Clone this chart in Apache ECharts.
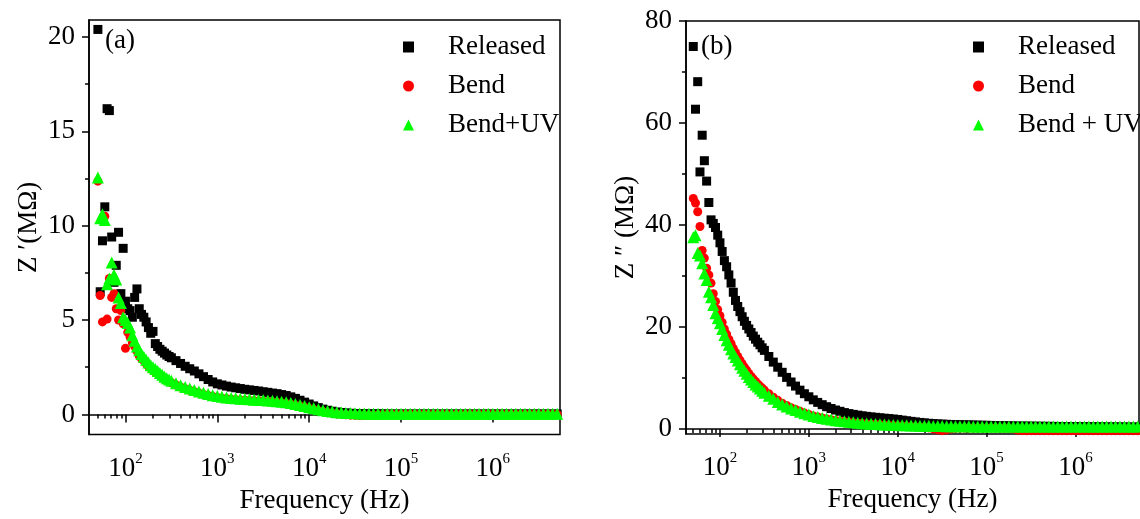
<!DOCTYPE html>
<html>
<head>
<meta charset="utf-8">
<script src="https://cdn.jsdelivr.net/npm/echarts@6/dist/echarts.min.js"></script>
<style>
  html, body { margin: 0; padding: 0; background: #fff; }
  #chart { width: 1140px; height: 519px; }
</style>
</head>
<body>
<div id="chart"></div>
<script>
// frequency sweep (Hz)
const freq = [
  50.1, 53.1, 56.2, 59.6, 63.1, 66.8, 70.8, 75.0, 79.4, 84.1, 89.1, 94.4,
  100, 105.9, 112.2, 118.9, 125.9, 133.4, 141.3, 149.6, 158.5, 167.9, 177.8, 188.4,
  199.5, 211.3, 223.9, 237.1, 251.2, 266.1, 281.8, 298.5,
  316.2, 354.8, 398.1, 446.7, 501.2, 562.3, 631.0, 707.9, 794.3, 891.3,
  1000, 1122, 1259, 1413, 1585, 1778, 1995, 2239, 2512, 2818,
  3162, 3548, 3981, 4467, 5012, 5623, 6310, 7079, 7943, 8913,
  10000, 11220, 12589, 14125, 15849, 17783, 19953, 22387, 25119, 28184,
  31623, 35481, 39811, 44668, 50119, 56234, 63096, 70795, 79433, 89125,
  100000, 112202, 125893, 141254, 158489, 177828, 199526, 223872, 251189, 281838,
  316228, 354813, 398107, 446684, 501187, 562341, 630957, 707946, 794328, 891251,
  1000000, 1122018, 1258925, 1412538, 1584893, 1778279, 1995262, 2238721, 2511886, 2818383,
  3162278, 3548134, 3981072, 4466836, 5011872
];

// (a) Z' in MOhm
const releasedA = [
  20.4, 6.5, 9.2, 11.0, 16.2, 16.1, 9.4, 7.0, 7.9, 9.65, 6.4, 8.8,
  6.0, 5.6, 5.5, 5.15, 6.2, 6.65, 5.6, 5.3, 5.15, 4.9, 4.6, 4.3,
  4.4, 3.75, 3.6, 3.45, 3.35, 3.25, 3.15, 3.07,
  3.0, 2.85, 2.7, 2.55, 2.42, 2.3, 2.15, 2.0, 1.85, 1.72,
  1.62, 1.56, 1.5, 1.45, 1.41, 1.37, 1.33, 1.3, 1.27, 1.24,
  1.2, 1.17, 1.13, 1.1, 1.05, 1.0, 0.93, 0.85, 0.75, 0.65,
  0.55, 0.45, 0.36, 0.28, 0.22, 0.17, 0.13, 0.1, 0.08, 0.06,
  0.05, 0.04, 0.03, 0.03, 0.03, 0.03, 0.03, 0.02, 0.02, 0.02,
  0.02, 0.02, 0.02, 0.02, 0.02, 0.02, 0.02, 0.02, 0.02, 0.02,
  0.02, 0.02, 0.02, 0.02, 0.02, 0.02, 0.02, 0.02, 0.02, 0.02,
  0.02, 0.02, 0.02, 0.02, 0.02, 0.02, 0.02, 0.02, 0.02, 0.02,
  0.02, 0.02, 0.02, 0.02, 0.02
];
const bendA = [
  12.36, 6.3, 4.9, 10.5, 5.05, 7.2, 6.2, 6.4, 5.6, 5.0, 5.5, 4.8,
  3.5, 4.35, 4.1, 3.8, 3.6, 3.35, 3.1, 2.95, 2.85, 2.7, 2.55, 2.45,
  2.35, 2.25, 2.15, 2.05, 1.97, 1.9, 1.82, 1.75,
  1.68, 1.56, 1.45, 1.36, 1.28, 1.2, 1.13, 1.06, 1.0, 0.95,
  0.9, 0.86, 0.83, 0.8, 0.78, 0.76, 0.75, 0.74, 0.72, 0.71,
  0.7, 0.68, 0.66, 0.64, 0.61, 0.58, 0.54, 0.49, 0.44, 0.38,
  0.32, 0.26, 0.2, 0.15, 0.1, 0.06, 0.03, 0.0, -0.02, -0.04,
  -0.05, -0.06, -0.06, -0.05, -0.04, -0.03, -0.02, -0.01, 0, 0,
  0, 0, 0, 0, 0, 0, 0, 0, 0, 0,
  0, 0, 0, 0, 0, 0, 0, 0, 0, 0,
  0, 0, 0, 0, 0, 0, 0, 0, 0, 0,
  0, 0, 0, 0, 0
];
const uvA = [
  12.55, 10.4, 10.6, 10.3, 6.9, 7.2, 8.05, 7.4, 7.15, 6.2, 5.9, 5.15,
  5.0, 4.85, 4.6, 4.2, 3.9, 3.6, 3.4, 3.2, 3.05, 2.9, 2.75, 2.6,
  2.5, 2.4, 2.3, 2.2, 2.1, 2.0, 1.92, 1.85,
  1.78, 1.65, 1.55, 1.45, 1.37, 1.3, 1.22, 1.15, 1.08, 1.02,
  0.97, 0.93, 0.9, 0.87, 0.85, 0.83, 0.81, 0.8, 0.78, 0.77,
  0.76, 0.74, 0.72, 0.7, 0.67, 0.64, 0.6, 0.55, 0.5, 0.44,
  0.38, 0.32, 0.27, 0.22, 0.18, 0.15, 0.12, 0.1, 0.08, 0.07,
  0.06, 0.05, 0.05, 0.04, 0.04, 0.04, 0.04, 0.04, 0.04, 0.04,
  0.04, 0.04, 0.04, 0.04, 0.04, 0.04, 0.04, 0.04, 0.04, 0.04,
  0.03, 0.03, 0.03, 0.03, 0.03, 0.03, 0.03, 0.03, 0.03, 0.03,
  0.03, 0.03, 0.03, 0.03, 0.03, 0.03, 0.03, 0.03, 0.03, 0.03,
  0.03, 0.03, 0.03, 0.03, 0.03
];

// (b) Z'' in MOhm
const releasedB = [
  75.0, 62.7, 68.1, 50.4, 57.6, 52.6, 48.6, 44.4, 41.0, 40.3, 39.5, 38.0,
  36.5, 34.8, 33.0, 31.8, 30.2, 28.6, 26.8, 25.2, 24.0, 23.0, 22.0, 21.1,
  20.3, 19.6, 18.9, 18.2, 17.6, 17.0, 16.5, 15.9,
  15.4, 14.2, 13.1, 12.1, 11.1, 10.1, 9.2, 8.4, 7.6, 6.9,
  6.3, 5.7, 5.2, 4.75, 4.35, 4.0, 3.7, 3.45, 3.2, 3.0,
  2.85, 2.7, 2.57, 2.46, 2.36, 2.27, 2.18, 2.1, 2.02, 1.94,
  1.85, 1.72, 1.6, 1.48, 1.37, 1.27, 1.18, 1.1, 1.04, 0.98,
  0.94, 0.9, 0.87, 0.84, 0.82, 0.8, 0.78, 0.76, 0.74, 0.72,
  0.7, 0.68, 0.66, 0.64, 0.62, 0.6, 0.58, 0.57, 0.56, 0.55,
  0.54, 0.53, 0.52, 0.51, 0.5, 0.49, 0.48, 0.47, 0.46, 0.45,
  0.44, 0.43, 0.42, 0.42, 0.41, 0.41, 0.4, 0.4, 0.39, 0.39,
  0.38, 0.38, 0.37, 0.37, 0.36
];
const bendB = [
  45.2, 44.3, 42.6, 39.7, 35.0, 33.5, 31.5, 30.2, 28.6, 26.5, 25.0, 23.4,
  22.2, 20.9, 19.6, 18.6, 17.6, 16.7, 15.8, 15.0, 14.2, 13.5, 12.8, 12.1,
  11.5, 10.9, 10.3, 9.8, 9.3, 8.8, 8.4, 8.0,
  7.6, 6.9, 6.2, 5.6, 5.05, 4.6, 4.15, 3.8, 3.45, 3.1,
  2.8, 2.55, 2.35, 2.15, 1.95, 1.8, 1.65, 1.53, 1.42, 1.32,
  1.22, 1.13, 1.05, 0.98, 0.91, 0.85, 0.79, 0.73, 0.68, 0.63,
  0.58, 0.53, 0.48, 0.43, 0.38, 0.33, 0.28, 0.2, 0.0, -0.2,
  -0.35, -0.2, 0.0, 0.1, 0.15, 0.15, 0.15, 0.15, 0.15, 0.15,
  0.15, 0.15, 0.15, 0.1, 0.1, 0.1, 0.0, -0.25, -0.35, -0.35,
  -0.35, -0.35, -0.35, -0.35, -0.35, -0.35, -0.35, -0.35, -0.35, -0.35,
  -0.35, -0.35, -0.35, -0.35, -0.35, -0.35, -0.35, -0.35, -0.35, -0.35,
  -0.35, -0.35, -0.35, -0.35, -0.35
];
const uvB = [
  37.6, 38.0, 34.5, 34.0, 32.5, 30.5, 29.2, 26.9, 25.8, 24.3, 22.7, 21.7,
  20.7, 19.6, 18.4, 17.4, 16.5, 15.6, 14.8, 14.1, 13.4, 12.7, 12.0, 11.4,
  10.8, 10.2, 9.7, 9.2, 8.7, 8.3, 7.9, 7.5,
  7.1, 6.5, 5.9, 5.3, 4.8, 4.4, 4.0, 3.7, 3.35, 3.05,
  2.8, 2.55, 2.35, 2.15, 2.0, 1.85, 1.7, 1.6, 1.5, 1.4,
  1.3, 1.2, 1.12, 1.05, 1.0, 0.95, 0.9, 0.86, 0.82, 0.78,
  0.75, 0.72, 0.7, 0.68, 0.66, 0.64, 0.62, 0.6, 0.58, 0.56,
  0.55, 0.54, 0.53, 0.52, 0.51, 0.5, 0.5, 0.49, 0.49, 0.48,
  0.48, 0.48, 0.47, 0.47, 0.47, 0.46, 0.46, 0.46, 0.46, 0.45,
  0.45, 0.45, 0.45, 0.45, 0.45, 0.45, 0.45, 0.45, 0.45, 0.45,
  0.45, 0.45, 0.45, 0.45, 0.45, 0.45, 0.45, 0.45, 0.45, 0.45,
  0.45, 0.45, 0.45, 0.45, 0.45
];

// ticks
const xMajor = [1e2, 1e3, 1e4, 1e5, 1e6];
const xMinor = [
  50, 60, 70, 80, 90,
  200, 300, 400, 500, 600, 700, 800, 900,
  2000, 3000, 4000, 5000, 6000, 7000, 8000, 9000,
  2e4, 3e4, 4e4, 5e4, 6e4, 7e4, 8e4, 9e4,
  2e5, 3e5, 4e5, 5e5, 6e5, 7e5, 8e5, 9e5,
  2e6, 3e6, 4e6, 5e6
];
const yMajorA = [0, 5, 10, 15, 20];
const yMinorA = [2.5, 7.5, 12.5, 17.5];
const yMajorB = [0, 20, 40, 60, 80];
const yMinorB = [10, 30, 50, 70];

const FONT = 'Liberation Serif';
const pairs = vals => freq.map((f, i) => [f, vals[i]]);

function xAxes(grid, min, max) {
  const line = { lineStyle: { color: '#000', width: 1.5 } };
  return [
    {
      type: 'log', gridIndex: grid, position: 'bottom', min, max,
      axisLine: line,
      axisTick: { customValues: xMajor, length: 8, lineStyle: { color: '#000', width: 1.5 } },
      axisLabel: {
        customValues: xMajor, margin: 17, color: '#000',
        formatter: v => '{b|10}{e|' + Math.round(Math.log10(v)) + '}',
        rich: {
          b: { fontFamily: FONT, fontSize: 27, lineHeight: 34, color: '#000' },
          e: { fontFamily: FONT, fontSize: 15, lineHeight: 8, verticalAlign: 'top', color: '#000' }
        }
      },
      splitLine: { show: false },
      name: 'Frequency (Hz)', nameLocation: 'middle', nameGap: 48,
      nameTextStyle: { fontFamily: FONT, fontSize: 27, color: '#000' }
    },
    {
      type: 'log', gridIndex: grid, position: 'bottom', min, max,
      axisLine: { show: false },
      axisTick: { customValues: xMinor, length: 4, lineStyle: { color: '#000', width: 1.5 } },
      axisLabel: { show: false },
      splitLine: { show: false }
    }
  ];
}

function yAxes(grid, min, max, major, minor, name) {
  return [
    {
      type: 'value', gridIndex: grid, position: 'left', min, max,
      axisLine: { show: true, lineStyle: { color: '#000', width: 1.5 } },
      axisTick: { show: true, customValues: major, length: 7, lineStyle: { color: '#000', width: 1.5 } },
      axisLabel: { customValues: major, margin: 14, fontFamily: FONT, fontSize: 27, color: '#000' },
      splitLine: { show: false },
      name, nameLocation: 'middle', nameGap: 47,
      nameTextStyle: { fontFamily: FONT, fontSize: 27, color: '#000' }
    },
    {
      type: 'value', gridIndex: grid, position: 'left', min, max,
      axisLine: { show: false },
      axisTick: { show: true, customValues: minor, length: 4, lineStyle: { color: '#000', width: 1.5 } },
      axisLabel: { show: false },
      splitLine: { show: false }
    }
  ];
}

function legend(left, names) {
  return {
    left, top: 33, padding: 0, orient: 'vertical',
    itemWidth: 11, itemHeight: 11, itemGap: 11,
    data: names,
    formatter: n => '{g| }' + n,
    textStyle: {
      fontFamily: FONT, fontSize: 27, color: '#000', lineHeight: 28,
      rich: { g: { width: 29 } }
    }
  };
}

function series(xi, yi, names, vals) {
  const sym = ['rect', 'circle', 'triangle'];
  const size = [9, 9, 12];
  const col = ['#000000', '#ff0000', '#00ff00'];
  return names.map((n, k) => ({
    name: n, type: 'scatter', xAxisIndex: xi, yAxisIndex: yi,
    symbol: sym[k], symbolSize: size[k],
    itemStyle: { color: col[k], opacity: 1 },
    data: pairs(vals[k])
  }));
}

const namesA = ['Released', 'Bend', 'Bend+UV'];
const namesB = ['Released', 'Bend', 'Bend + UV'];
const titleStyle = { fontFamily: FONT, fontSize: 27, fontWeight: 'normal', color: '#000' };

const chart = echarts.init(document.getElementById('chart'));
chart.setOption({
  animation: false,
  backgroundColor: '#fff',
  title: [
    { text: '(a)', left: 105, top: 27, padding: 0, textStyle: titleStyle },
    { text: '(b)', left: 701, top: 33, padding: 0, textStyle: titleStyle }
  ],
  legend: [legend(403, namesA), legend(973, namesB)],
  grid: [
    { left: 89, right: 580, top: 20, bottom: 83, show: true, borderColor: '#000', borderWidth: 1.5 },
    { left: 686, right: 1, top: 21, bottom: 85, show: true, borderColor: '#000', borderWidth: 1.5 }
  ],
  xAxis: [...xAxes(0, 40.1, 5.38e6), ...xAxes(1, 41.5, 5.18e6)],
  yAxis: [
    ...yAxes(0, -1.07, 20.9, yMajorA, yMinorA, 'Z \u2032(M\u03a9)'),
    ...yAxes(1, -1, 80, yMajorB, yMinorB, 'Z \u2033 (M\u03a9)')
  ],
  series: [
    ...series(0, 0, namesA, [releasedA, bendA, uvA]),
    ...series(2, 2, namesB, [releasedB, bendB, uvB])
  ]
});
</script>
</body>
</html>
